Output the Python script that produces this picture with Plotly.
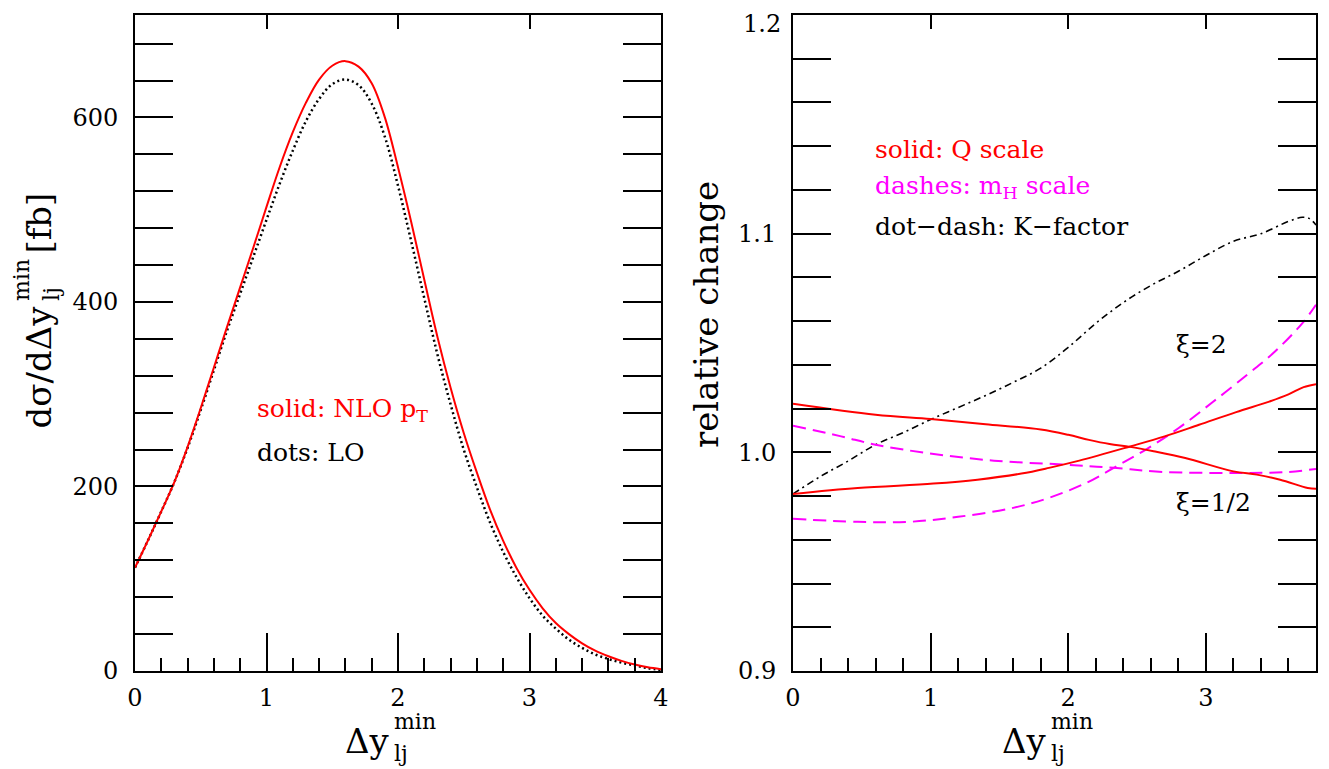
import plotly.graph_objects as go

# ---------------- data: left panel ----------------
x_left = [0.0, 0.1, 0.2, 0.3, 0.4, 0.5, 0.6, 0.7, 0.8, 0.9, 1.0, 1.1, 1.2, 1.3, 1.4, 1.5,
          1.6, 1.7, 1.8, 1.9, 2.0, 2.1, 2.2, 2.3, 2.4, 2.5, 2.6, 2.7, 2.8, 2.9, 3.0, 3.1,
          3.2, 3.3, 3.4, 3.5, 3.6, 3.7, 3.8, 3.9, 4.0]
nlo_pt = [112, 142, 173, 205, 243, 285, 329, 373, 416, 459, 503, 546, 584, 616, 641, 656,
          661, 655, 637, 600, 546, 487, 424, 362, 307, 258, 215, 175, 141, 112, 88, 68,
          52, 40, 30, 22, 16, 11, 7, 4, 2]
lo = [112, 142, 173, 205, 242, 283, 326, 369, 409, 449, 489, 528, 564, 596, 620, 636,
      641, 635, 615, 579, 526, 466, 404, 343, 289, 240, 199, 161, 129, 102, 79, 60,
      46, 34, 25, 18, 13, 9, 6, 3, 1]

# ---------------- data: right panel ----------------
x_q_half = [0.0, 0.6, 1.0, 1.4, 1.8, 2.0, 2.15, 2.3, 2.45, 2.62, 2.85, 3.2, 3.37, 3.54, 3.74, 3.8]
q_half = [1.0222, 1.0172, 1.0152, 1.0129, 1.0104, 1.0080, 1.0057, 1.0038, 1.0025, 1.0005,
          0.9974, 0.9913, 0.9898, 0.9875, 0.9837, 0.9833]

x_q_two = [0.0, 0.47, 1.02, 1.34, 1.66, 1.86, 2.08, 2.45, 2.7, 2.95, 3.22, 3.46, 3.6, 3.71, 3.8]
q_two = [0.9810, 0.9837, 0.9857, 0.9875, 0.9903, 0.9929, 0.9962, 1.0027, 1.0073, 1.0126,
         1.0184, 1.0232, 1.0265, 1.0298, 1.0312]

x_mh_a = [0.0, 0.35, 0.6, 0.97, 1.46, 1.96, 2.33, 2.7, 3.2, 3.57, 3.8]
mh_a = [1.0122, 1.0073, 1.0035, 0.9997, 0.9962, 0.9944, 0.9929, 0.9910, 0.9906, 0.9909, 0.9924]

x_mh_b = [0.0, 0.47, 0.84, 1.2, 1.6, 1.86, 2.13, 2.35, 2.57, 2.8, 3.05, 3.3, 3.5, 3.7, 3.8]
mh_b = [0.9696, 0.9682, 0.9682, 0.9705, 0.9746, 0.9792, 0.9860, 0.9936, 1.0015, 1.0110,
        1.0230, 1.0355, 1.0460, 1.0590, 1.0675]

x_kf = [0.0, 0.2, 0.4, 0.6, 0.8, 1.0, 1.2, 1.4, 1.6, 1.8, 2.0, 2.2, 2.4, 2.6, 2.8, 3.0,
        3.2, 3.4, 3.6, 3.7, 3.75, 3.8]
kfac = [0.981, 0.989, 0.996, 1.0035, 1.009, 1.015, 1.0205, 1.026, 1.032, 1.0385, 1.048,
        1.059, 1.0685, 1.0763, 1.0828, 1.090, 1.0965, 1.100, 1.1056, 1.1075, 1.107, 1.104]

left_yticks = [0, 200, 400, 600]
left_xticks = [0, 1, 2, 3, 4]
right_yticks = [0.9, 1.0, 1.1, 1.2]
right_yticklabels = ["0.9", "1.0", "1.1", "1.2"]
right_xticks = [0, 1, 2, 3]

FONT = "DejaVu Serif"
RED = "#ff0000"
MAG = "#ff00ff"

fig = go.Figure()
fig.add_trace(go.Scatter(x=x_left, y=lo, mode="lines", line=dict(color="black", width=2.5, dash="2px,3px", shape="spline"),
                         xaxis="x", yaxis="y", showlegend=False))
fig.add_trace(go.Scatter(x=x_left, y=nlo_pt, mode="lines", line=dict(color=RED, width=2, shape="spline"),
                         xaxis="x", yaxis="y", showlegend=False))

fig.add_trace(go.Scatter(x=x_kf, y=kfac, mode="lines", line=dict(color="black", width=1.6, dash="7px,4px,2px,4px", shape="spline"),
                         xaxis="x2", yaxis="y2", showlegend=False))
fig.add_trace(go.Scatter(x=x_mh_a, y=mh_a, mode="lines", line=dict(color=MAG, width=2, dash="13px,7px", shape="spline"),
                         xaxis="x2", yaxis="y2", showlegend=False))
fig.add_trace(go.Scatter(x=x_mh_b, y=mh_b, mode="lines", line=dict(color=MAG, width=2, dash="13px,7px", shape="spline"),
                         xaxis="x2", yaxis="y2", showlegend=False))
fig.add_trace(go.Scatter(x=x_q_half, y=q_half, mode="lines", line=dict(color=RED, width=2, shape="spline"),
                         xaxis="x2", yaxis="y2", showlegend=False))
fig.add_trace(go.Scatter(x=x_q_two, y=q_two, mode="lines", line=dict(color=RED, width=2, shape="spline"),
                         xaxis="x2", yaxis="y2", showlegend=False))
# empty traces that only activate the top tick axes
fig.add_trace(go.Scatter(x=[], y=[], xaxis="x3", yaxis="y", showlegend=False, hoverinfo="skip"))
fig.add_trace(go.Scatter(x=[], y=[], xaxis="x4", yaxis="y2", showlegend=False, hoverinfo="skip"))

# page body has an 8px margin: the figure is shifted by (8, 8)
OFF = 8
W, H = 1329 - OFF, 769 - OFF
ML, MT = 135 - OFF, 15 - OFF
MR = W - (1316 - OFF)
MB = H - (671 - OFF)
PW = W - ML - MR
PH = H - MT - MB
d1 = [0, (661 - 135) / PW]
d2 = [(793 - 135) / PW, 1]

tickfont = dict(family=FONT, size=24, color="black")
minor_x = dict(ticks="inside", ticklen=13, tickwidth=2, tickcolor="black", dtick=0.2, tick0=0, showgrid=False)
common_x = dict(showgrid=False, zeroline=False, showline=True, linecolor="black", linewidth=2,
                ticks="inside", ticklen=38, tickwidth=2, tickcolor="black", mirror=True,
                tickfont=tickfont, ticklabelstandoff=4, automargin=False, minor=minor_x)
common_y = dict(showgrid=False, zeroline=False, showline=True, linecolor="black", linewidth=2,
                ticks="inside", ticklen=38, tickwidth=2, tickcolor="black", mirror="allticks",
                tickfont=tickfont, ticklabelstandoff=10, automargin=False)
top_x = dict(side="top", tickvals=[1, 2, 3], ticks="inside", ticklen=14, tickwidth=2, tickcolor="black",
             showticklabels=False, showgrid=False, zeroline=False, showline=False, automargin=False)

# the top label of the right axis sits at the page edge; it is drawn as an annotation instead
axis_texts = right_yticklabels[:-1] + [""]

fig.update_layout(
    width=W, height=H,
    margin=dict(l=ML, r=MR, t=MT, b=MB, autoexpand=False),
    paper_bgcolor="white", plot_bgcolor="white",
    xaxis=dict(domain=d1, range=[0, 4], tickvals=left_xticks, anchor="y", **common_x),
    yaxis=dict(domain=[0, 1], range=[0, 711], tickvals=left_yticks, anchor="x",
               minor=dict(ticks="inside", ticklen=13, tickwidth=2, tickcolor="black", dtick=40, tick0=0, showgrid=False),
               **common_y),
    xaxis2=dict(domain=d2, range=[0, 3.8], tickvals=right_xticks, anchor="y2", **common_x),
    yaxis2=dict(domain=[0, 1], range=[0.9, 1.2], tickvals=right_yticks, ticktext=axis_texts, anchor="x2",
                minor=dict(ticks="inside", ticklen=13, tickwidth=2, tickcolor="black", dtick=0.02, tick0=0.9, showgrid=False),
                **common_y),
    xaxis3=dict(domain=d1, range=[0, 4], overlaying="x", anchor="y", **top_x),
    xaxis4=dict(domain=d2, range=[0, 3.8], overlaying="x2", anchor="y2", **top_x),
)


def px2paper_x(px):
    return (px - 135) / PW


def py2paper_y(py):
    return (671 - py) / PH


ann = []
big = dict(family=FONT, size=34, color="black")
small = dict(family=FONT, size=22, color="black")

# top tick label of the right panel
ann.append(dict(text=right_yticklabels[-1], x=0, y=1, xref="x2 domain", yref="paper",
                xanchor="right", yanchor="top", xshift=-10, yshift=7, showarrow=False, font=tickfont))

# x-axis titles (stacked super/subscripts)
for cx in [(135 + 661) / 2, (793 + 1316) / 2]:
    ann.append(dict(text="Δy", x=px2paper_x(cx - 6), y=py2paper_y(741), xref="paper", yref="paper",
                    xanchor="right", yanchor="middle", showarrow=False, font=big))
    ann.append(dict(text="min", x=px2paper_x(cx - 6), y=py2paper_y(722), xref="paper", yref="paper",
                    xanchor="left", yanchor="middle", showarrow=False, font=small))
    ann.append(dict(text="lj", x=px2paper_x(cx - 6), y=py2paper_y(753), xref="paper", yref="paper",
                    xanchor="left", yanchor="middle", showarrow=False, font=small))

# left y title
ann.append(dict(text="dσ/dΔy", x=px2paper_x(38), y=py2paper_y(304), xref="paper", yref="paper",
                xanchor="center", yanchor="top", textangle=-90, showarrow=False, font=big))
ann.append(dict(text="min", x=px2paper_x(22), y=py2paper_y(303), xref="paper", yref="paper",
                xanchor="center", yanchor="bottom", textangle=-90, showarrow=False, font=small))
ann.append(dict(text="lj", x=px2paper_x(52), y=py2paper_y(303), xref="paper", yref="paper",
                xanchor="center", yanchor="bottom", textangle=-90, showarrow=False, font=small))
ann.append(dict(text="[fb]", x=px2paper_x(38), y=py2paper_y(256), xref="paper", yref="paper",
                xanchor="center", yanchor="bottom", textangle=-90, showarrow=False, font=big))

# right y title
ann.append(dict(text="relative change", x=px2paper_x(706), y=py2paper_y(315), xref="paper", yref="paper",
                xanchor="center", yanchor="middle", textangle=-90, showarrow=False, font=big))

lab = dict(family=FONT, size=25)
ann.append(dict(text="solid: NLO p<sub>T</sub>", x=0.91, y=283, xref="x", yref="y", xanchor="left", yanchor="middle",
                showarrow=False, font=dict(color=RED, **lab)))
ann.append(dict(text="dots: LO", x=0.91, y=237, xref="x", yref="y", xanchor="left", yanchor="middle",
                showarrow=False, font=dict(color="black", **lab)))
ann.append(dict(text="solid: Q scale", x=0.58, y=1.1387, xref="x2", yref="y2", xanchor="left", yanchor="middle",
                showarrow=False, font=dict(color=RED, **lab)))
ann.append(dict(text="dashes: m<sub>H</sub> scale", x=0.58, y=1.1213, xref="x2", yref="y2", xanchor="left", yanchor="middle",
                showarrow=False, font=dict(color=MAG, **lab)))
ann.append(dict(text="dot−dash: K−factor", x=0.58, y=1.1034, xref="x2", yref="y2", xanchor="left", yanchor="middle",
                showarrow=False, font=dict(color="black", **lab)))
ann.append(dict(text="ξ=2", x=2.77, y=1.0494, xref="x2", yref="y2", xanchor="left", yanchor="middle",
                showarrow=False, font=dict(color="black", **lab)))
ann.append(dict(text="ξ=1/2", x=2.77, y=0.9771, xref="x2", yref="y2", xanchor="left", yanchor="middle",
                showarrow=False, font=dict(color="black", **lab)))

fig.update_layout(annotations=ann)
fig.write_html("out.html")
